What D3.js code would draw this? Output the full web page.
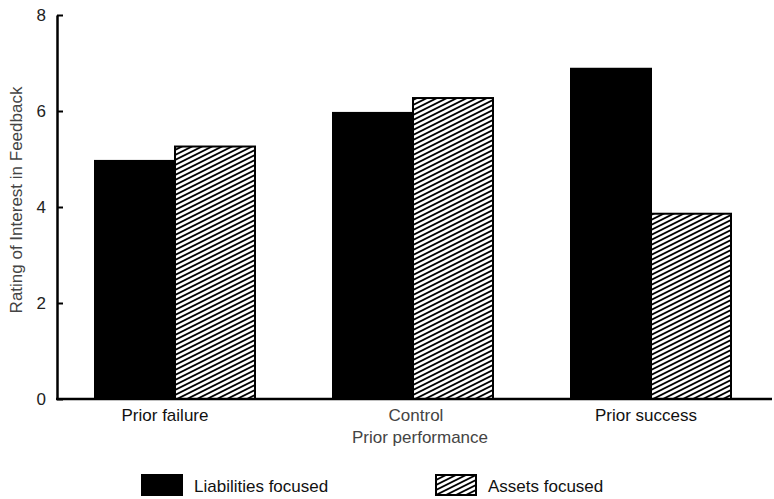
<!DOCTYPE html>
<meta charset="utf-8">
<title>Interest in Feedback</title>
<script src="https://d3js.org/d3.v7.min.js"></script>
<style>
  body { margin: 0; background: #fff; }
  text { font-family: "Liberation Sans", Arial, sans-serif; }
</style>
<div id="chart"></div>
<script>
// data
var categories = ["Prior failure", "Control", "Prior success"];
var seriesNames = ["Liabilities focused", "Assets focused"];
var liabilities = [4.96, 5.96, 6.88];
var assets = [5.26, 6.27, 3.86];
var yTicks = [0, 2, 4, 6, 8];

var W = 774, H = 499;

var svg = d3.select("#chart").append("svg")
  .attr("width", W).attr("height", H);

// hatch for the assets bars
var defs = svg.append("defs");
defs.append("pattern")
  .attr("id", "hatch")
  .attr("patternUnits", "userSpaceOnUse")
  .attr("width", 10).attr("height", 5)
  .call(function(p) {
    p.append("rect").attr("width", 10).attr("height", 5).attr("fill", "#fff");
    p.append("path")
      .attr("d", "M-2,6 L12,-1 M-2,1 L2,-1 M8,6 L12,4")
      .attr("stroke", "#000").attr("stroke-width", 1.8);
  });

var y = d3.scaleLinear().domain([0, 8]).range([399, 15]);

var x = d3.scaleBand()
  .domain(categories)
  .range([56, 770])
  .paddingInner(0)
  .paddingOuter(0);

var sub = d3.scaleBand()
  .domain(seriesNames)
  .range([0, 160]);

var groups = categories.map(function(c, i) {
  return { cat: c, vals: [liabilities[i], assets[i]] };
});

var g = svg.selectAll(".grp")
  .data(groups).enter().append("g")
  .attr("transform", function(d) {
    return "translate(" + (x(d.cat) + x.bandwidth() / 2 - 80) + ",0)";
  });

g.selectAll("rect")
  .data(function(d) { return d.vals.map(function(v, j) { return { name: seriesNames[j], v: v }; }); })
  .enter().append("rect")
  .attr("x", function(d) { return sub(d.name); })
  .attr("width", sub.bandwidth())
  .attr("y", function(d) { return y(d.v); })
  .attr("height", function(d) { return y(0) - y(d.v); })
  .attr("fill", function(d, j) { return j === 0 ? "#000" : "url(#hatch)"; })
  .attr("stroke", "#000")
  .attr("stroke-width", 2);

// y axis
var yAxis = svg.append("g")
  .attr("transform", "translate(57,0)")
  .call(d3.axisRight(y).tickValues(yTicks).tickSize(6).tickSizeOuter(0));
yAxis.select(".domain").attr("stroke-width", 2.5);
yAxis.selectAll(".tick line").attr("stroke-width", 2);
yAxis.selectAll(".tick text")
  .attr("x", -11).attr("text-anchor", "end")
  .attr("font-size", 17).attr("fill", "#222");

// x axis line
svg.append("line")
  .attr("x1", 56).attr("x2", 772)
  .attr("y1", y(0)).attr("y2", y(0))
  .attr("stroke", "#000").attr("stroke-width", 2.5);

// labels sit a little off the group centres in the original
var labelShift = [-10, 3, -5];
svg.selectAll(".xlab")
  .data(categories).enter().append("text")
  .attr("x", function(d, i) { return x(d) + x.bandwidth() / 2 + labelShift[i]; })
  .attr("y", 421)
  .attr("text-anchor", "middle")
  .attr("font-size", 17)
  .attr("fill", function(d) { return d === "Control" ? "#444" : "#111"; })
  .text(function(d) { return d; });

svg.append("text")
  .attr("x", x("Control") + x.bandwidth() / 2 + 7)
  .attr("y", 443)
  .attr("text-anchor", "middle")
  .attr("font-size", 17)
  .attr("fill", "#444")
  .text("Prior performance");

svg.append("text")
  .attr("transform", "translate(22,200) rotate(-90)")
  .attr("text-anchor", "middle")
  .attr("font-size", 17)
  .attr("fill", "#444")
  .text("Rating of Interest in Feedback");

// legend
var legendX = [142, 436];
var leg = svg.selectAll(".leg")
  .data(seriesNames).enter().append("g")
  .attr("transform", function(d, i) { return "translate(" + legendX[i] + ",475)"; });
leg.append("rect")
  .attr("width", 40).attr("height", 20)
  .attr("fill", function(d, i) { return i === 0 ? "#000" : "url(#hatch)"; })
  .attr("stroke", "#000").attr("stroke-width", 2);
leg.append("text")
  .attr("x", 52).attr("y", 17)
  .attr("font-size", 17)
  .attr("fill", "#111")
  .text(function(d) { return d; });
</script>
